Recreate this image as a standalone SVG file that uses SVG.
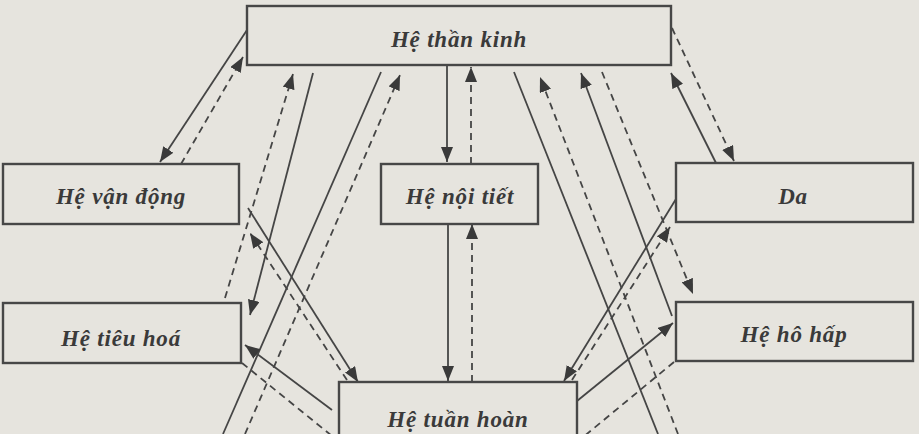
<svg xmlns="http://www.w3.org/2000/svg" width="919" height="434" viewBox="0 0 919 434">
<style>
.box{fill:none;stroke:#474747;stroke-width:2.4}
.t{font-family:"Liberation Serif","Times New Roman",serif;font-weight:bold;font-style:italic;font-size:23px;letter-spacing:0.8px;fill:#3a3a3a;text-anchor:middle}
.s{fill:none;stroke:#454545;stroke-width:1.8}
.d{fill:none;stroke:#454545;stroke-width:1.8;stroke-dasharray:7 5}
</style>
<defs>
<marker id="ah" markerUnits="userSpaceOnUse" markerWidth="16" markerHeight="12" refX="15" refY="6" orient="auto">
<path d="M0,0 L15,6 L0,12 z" fill="#3a3a3a"/>
</marker>
</defs>
<rect width="919" height="434" fill="#e6e4de"/>
<g id="connectors">
<path class="s" d="M247,30 L160,162" marker-end="url(#ah)"/>
<path class="s" d="M313,73 L250,315" marker-end="url(#ah)"/>
<path class="s" d="M381,72 L223,434"/>
<path class="s" d="M447,65 L447,162" marker-end="url(#ah)"/>
<path class="s" d="M448,224 L448,381" marker-end="url(#ah)"/>
<path class="s" d="M514,72 L658,434"/>
<path class="s" d="M672,316 L581,73" marker-end="url(#ah)"/>
<path class="s" d="M716,163 L671,73" marker-end="url(#ah)"/>
<path class="s" d="M676,199 L564,381" marker-end="url(#ah)"/>
<path class="s" d="M577,401 L673,323" marker-end="url(#ah)"/>
<path class="s" d="M248,208 L358,382" marker-end="url(#ah)"/>
<path class="s" d="M332,410 L245,345" marker-end="url(#ah)"/>
<path class="d" d="M181,164 L243,57" marker-end="url(#ah)"/>
<path class="d" d="M225,298 L293,74" marker-end="url(#ah)"/>
<path class="d" d="M245,434 L400,75" marker-end="url(#ah)"/>
<path class="d" d="M471,164 L471,67" marker-end="url(#ah)"/>
<path class="d" d="M472,382 L472,224" marker-end="url(#ah)"/>
<path class="d" d="M678,434 L540,77" marker-end="url(#ah)"/>
<path class="d" d="M602,72 L693,294" marker-end="url(#ah)"/>
<path class="d" d="M672,28 L734,161" marker-end="url(#ah)"/>
<path class="d" d="M572,380 L670,227" marker-end="url(#ah)"/>
<path class="d" d="M674,362 L582,438"/>
<path class="d" d="M347,380 L250,233" marker-end="url(#ah)"/>
<path class="d" d="M242,363 L337,440"/>
</g>
<g id="than-kinh"><rect class="box" x="247" y="6" width="424" height="59"/><text class="t" x="459" y="47">Hệ thần kinh</text></g>
<g id="van-dong"><rect class="box" x="3" y="164" width="236" height="60"/><text class="t" x="121" y="204">Hệ vận động</text></g>
<g id="noi-tiet"><rect class="box" x="381" y="164" width="157" height="60"/><text class="t" x="460" y="204">Hệ nội tiết</text></g>
<g id="da"><rect class="box" x="676" y="163" width="237" height="59"/><text class="t" x="793" y="204">Da</text></g>
<g id="tieu-hoa"><rect class="box" x="3" y="303" width="238" height="60"/><text class="t" x="121" y="346">Hệ tiêu hoá</text></g>
<g id="ho-hap"><rect class="box" x="676" y="302" width="237" height="59"/><text class="t" x="794" y="342">Hệ hô hấp</text></g>
<g id="tuan-hoan"><rect class="box" x="339" y="382" width="238" height="70"/><text class="t" x="458" y="427">Hệ tuần hoàn</text></g>
</svg>
